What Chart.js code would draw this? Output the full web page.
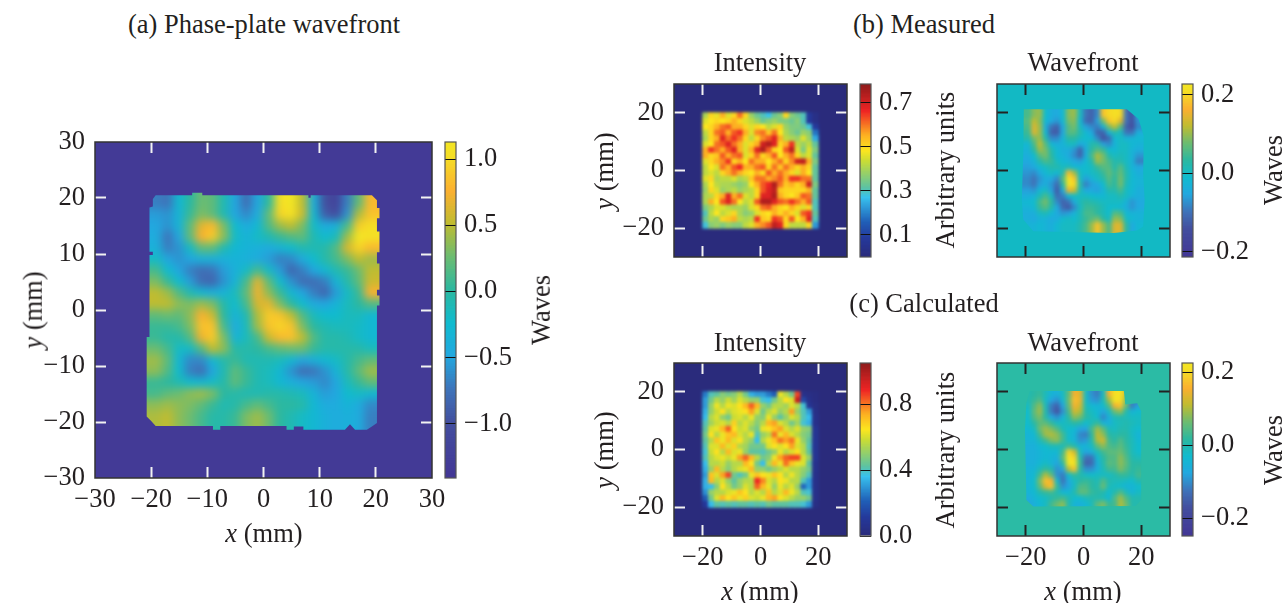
<!DOCTYPE html>
<html><head><meta charset="utf-8">
<style>
html,body{margin:0;padding:0;background:#fff;width:1286px;height:603px;overflow:hidden}
canvas{position:absolute;display:block}
.t{position:absolute;font:26.5px "Liberation Serif",serif;color:#231f20;white-space:nowrap;transform:translate(-50%,-50%);line-height:1}
.r{transform:translate(-50%,-50%) rotate(-90deg)}
</style>
<script src="https://cdn.jsdelivr.net/npm/chart.js@4"></script>
</head><body>
<script>
// ---- tick values
const mainTicks=[-30,-20,-10,0,10,20,30];
const mainInnerTicks=[-20,-10,0,10,20];
const smallTicks=[-20,0,20];
const cbMainTicks=[1,0.5,0,-0.5,-1];
const cbIntBTicks=[0.7,0.5,0.3,0.1];
const cbWaveBTicks=[0.2,0,-0.2];
const cbIntCTicks=[0.8,0.4,0];
const cbWaveCTicks=[0.2,0,-0.2];
// ---- colour scale limits
const mainRange=[-1.41,1.13], intBRange=[0,0.786], waveBRange=[-0.213,0.228], intCRange=[0,1.05], waveCRange=[-0.249,0.225];
// ---- (a) phase plate, waves, rows y=19..-19, columns x=-19..19 (2 mm cells)
const phaseRows=[
[-.7,-.75,-.3,0,.25,.2,-.1,-.5,-.8,-.5,0,1,1.13,.5,-.4,-1,-1.2,-.7,.2,.8],
[-.55,-.6,-.35,.05,.3,.2,-.1,-.5,-.65,-.45,.2,.95,1.05,.55,-.3,-.9,-1.05,-.6,.45,.85],
[-.5,-.6,-.35,.2,.65,.8,.3,-.25,-.45,-.3,.15,.4,.5,.3,-.2,-.45,-.4,.1,.9,1],
[-.45,-.75,-.5,.2,.75,.9,.35,-.2,-.35,-.2,-.1,.05,.15,.2,-.1,-.25,-.15,.4,1.13,1.05],
[-.4,-.7,-.6,-.2,.2,.2,-.1,-.3,-.35,-.4,-.45,-.35,-.25,-.1,-.1,-.05,.15,.6,.95,.8],
[-.2,-.5,-.6,-.5,-.4,-.4,-.4,-.35,-.4,-.45,-.55,-.7,-.65,-.45,-.25,-.05,.1,.3,.5,.4],
[.1,-.25,-.5,-.7,-.8,-.75,-.55,-.4,-.2,.1,-.2,-.55,-.85,-.7,-.5,-.3,-.1,.05,.25,.5],
[.3,.05,-.25,-.55,-.8,-.85,-.6,-.35,.1,.65,.2,-.25,-.6,-.8,-.8,-.7,-.35,-.05,.2,.55],
[.5,.4,.15,-.1,-.3,-.4,-.35,-.15,.2,.7,.35,.05,-.3,-.5,-.7,-.85,-.55,-.2,.05,.75],
[.5,.5,.35,.3,.4,.3,-.05,-.25,.1,.6,.65,.3,0,-.25,-.45,-.5,-.35,-.15,0,.15],
[.2,.25,.2,.35,.75,.55,0,-.35,-.1,.45,.9,.85,.5,.15,-.15,-.25,-.25,-.15,-.15,-.3],
[.05,.05,.1,.3,.85,.85,.1,-.45,-.15,.4,.85,.95,.85,.3,0,-.1,-.15,-.15,-.2,-.3],
[.05,-.05,-.05,.15,.7,.9,.3,-.35,-.15,.1,.55,.8,.85,.5,.15,-.05,-.05,-.1,-.2,-.3],
[.25,.1,-.2,-.2,.15,.5,.35,-.05,-.05,0,.1,.2,.25,.25,.05,-.05,-.05,-.05,-.05,-.15],
[.4,.2,-.3,-.65,-.65,-.3,-.05,.05,-.1,-.1,-.1,-.15,-.3,-.5,-.4,-.3,-.2,-.05,.1,.2],
[.35,.15,-.25,-.7,-.8,-.5,-.1,.2,.05,-.1,-.15,-.3,-.6,-.8,-.75,-.6,-.35,-.05,.2,.4],
[.05,0,-.1,-.25,-.3,-.2,-.05,.2,.05,-.1,-.15,-.3,-.4,-.5,-.55,-.65,-.5,-.15,.05,.2],
[.1,.2,.25,.35,.4,.3,0,-.05,-.1,-.1,-.05,-.05,-.1,-.15,-.35,-.55,-.5,-.25,-.2,-.3],
[.35,.4,.35,.3,.2,.05,-.1,-.05,.1,.2,.1,0,0,-.05,-.3,-.45,-.45,-.35,-.45,-.65],
[.45,.5,.35,.25,.1,-.05,-.05,.05,.3,.4,.25,0,-.1,-.2,-.3,-.4,-.45,-.4,-.45,-.7]];
// ---- (b) measured intensity
const measuredIntensity=[
[.4,.5,.46,.55,.45,.5,.6,.5,.38,.33,.3,.27,.33,.36,.5,.36,.33,.3,.08,.03],
[.45,.48,.5,.48,.5,.55,.5,.45,.42,.38,.33,.36,.38,.35,.35,.33,.36,.3,.08,.03],
[.48,.5,.55,.6,.62,.55,.55,.5,.45,.5,.48,.42,.45,.5,.38,.35,.35,.33,.28,.08],
[.42,.5,.6,.62,.55,.62,.65,.55,.45,.58,.6,.52,.6,.48,.4,.36,.33,.38,.36,.18],
[.4,.5,.55,.68,.6,.65,.6,.5,.42,.5,.58,.62,.68,.55,.42,.4,.38,.45,.38,.24],
[.45,.48,.6,.62,.68,.6,.55,.45,.5,.55,.7,.74,.68,.5,.55,.65,.42,.38,.42,.32],
[.55,.65,.6,.55,.62,.68,.55,.45,.55,.68,.74,.62,.5,.48,.62,.72,.45,.35,.45,.35],
[.55,.5,.52,.62,.55,.6,.62,.45,.5,.6,.5,.55,.62,.48,.55,.6,.5,.42,.45,.32],
[.45,.5,.55,.58,.65,.5,.55,.48,.6,.55,.55,.48,.55,.6,.5,.58,.7,.72,.55,.35],
[.42,.48,.45,.6,.55,.62,.66,.55,.55,.6,.62,.5,.6,.52,.6,.55,.5,.55,.5,.32],
[.42,.45,.42,.5,.55,.6,.55,.5,.48,.55,.5,.62,.55,.6,.55,.5,.45,.55,.48,.32],
[.45,.5,.4,.42,.42,.45,.4,.42,.52,.6,.6,.55,.58,.62,.55,.65,.65,.6,.6,.32],
[.4,.48,.42,.4,.4,.38,.36,.38,.48,.55,.62,.66,.74,.6,.52,.55,.5,.55,.7,.35],
[.38,.5,.45,.38,.4,.42,.38,.4,.42,.5,.62,.68,.72,.52,.5,.5,.5,.5,.55,.32],
[.4,.42,.5,.55,.68,.55,.6,.45,.42,.5,.68,.68,.74,.55,.5,.48,.52,.62,.6,.32],
[.4,.55,.48,.62,.68,.6,.48,.42,.45,.62,.74,.74,.68,.62,.6,.65,.6,.55,.62,.3],
[.35,.4,.45,.45,.42,.4,.4,.38,.45,.5,.6,.62,.55,.5,.48,.55,.5,.45,.5,.3],
[.3,.42,.48,.42,.45,.5,.4,.36,.38,.45,.5,.48,.55,.5,.55,.5,.45,.62,.65,.32],
[.33,.4,.38,.5,.52,.55,.42,.4,.42,.65,.52,.5,.65,.62,.5,.62,.48,.55,.68,.3],
[.28,.36,.38,.35,.38,.36,.36,.42,.45,.55,.58,.62,.72,.68,.5,.42,.42,.42,.5,.22]];
// ---- (b) measured wavefront
const measuredWave=[
[.05,.09,.1,-.01,-.04,-.05,-.02,.09,.1,0,-.1,-.12,-.08,.18,.2,.21,.2,-.1,-.14,-.06],
[.06,.12,.09,-.02,-.05,-.07,-.02,.08,.09,-.02,-.11,-.12,-.06,.08,.18,.2,.14,-.1,-.14,-.07],
[.05,.14,.1,-.04,-.1,-.12,-.05,.06,.08,0,-.06,-.08,-.09,-.03,.08,.12,.06,-.12,-.15,-.08],
[.04,.14,.1,-.02,-.12,-.13,-.05,.06,.06,.02,-.02,-.05,-.12,-.12,-.03,.02,0,-.1,-.1,-.04],
[.02,.08,.1,.02,-.08,-.08,-.03,.03,.03,0,-.01,-.02,-.08,-.14,-.11,-.02,0,-.03,-.03,-.02],
[-.02,.05,.12,.06,-.02,-.04,-.03,0,0,-.05,-.03,.02,.02,-.06,-.08,-.03,0,0,-.02,-.03],
[-.03,.03,.1,.08,.02,-.02,-.04,-.04,-.07,-.12,-.04,.03,.06,.04,-.01,-.02,0,0,-.03,-.04],
[-.04,-.01,.06,.08,.03,-.02,-.03,-.05,-.08,-.12,-.04,.05,.11,.08,.02,0,.01,0,-.03,-.07],
[-.05,-.03,.02,.05,.04,0,-.02,-.03,-.05,-.06,-.02,.02,.1,.08,.05,.02,.02,0,-.03,-.09],
[-.06,-.05,-.02,0,.02,.02,0,.01,-.02,-.02,-.01,0,.04,.06,.06,.02,.06,.01,-.03,-.05],
[-.07,-.08,-.05,-.02,0,-.02,.02,.17,.1,0,-.02,0,.01,.04,.07,.04,.07,.02,-.02,-.04],
[-.08,-.1,-.07,-.04,-.05,-.08,.06,.22,.18,0,-.06,-.03,0,.02,.06,.03,.08,.02,-.02,-.03],
[-.08,-.1,-.06,-.04,-.07,-.11,.03,.22,.2,.02,-.09,-.06,-.05,-.01,.05,.03,.08,.01,-.02,-.03],
[-.06,-.07,-.02,0,-.06,-.13,-.04,.15,.13,.01,-.05,-.05,-.06,-.03,.02,.02,.05,0,-.02,-.04],
[-.04,-.03,.01,.05,0,-.11,-.09,-.02,0,0,0,-.01,-.02,-.02,0,0,.02,0,-.03,-.04],
[-.02,-.01,.05,.08,.03,-.08,-.12,-.1,-.04,.01,.03,.02,.01,0,0,0,0,-.03,-.07,-.05],
[-.03,-.02,.04,.06,.02,-.05,-.11,-.13,-.08,0,.04,.04,.03,.01,-.01,-.01,-.02,-.04,-.07,-.05],
[-.04,-.04,0,.01,-.02,-.05,-.07,-.06,-.03,.01,.05,.05,.03,.01,-.01,.06,.05,-.02,-.03,-.03],
[-.04,-.05,-.03,-.03,-.05,-.04,-.01,0,-.01,.01,.04,.06,.08,.03,0,.1,.09,0,-.02,-.03],
[-.03,-.03,-.02,-.03,-.04,-.02,0,0,0,.02,.05,.1,.18,.1,.05,.14,.14,.03,-.05,-.02]];
// ---- (c) calculated intensity
const calculatedIntensity=[
[.25,.4,.42,.48,.45,.48,.55,.45,.33,.3,.3,.25,.2,.62,.55,.45,.85,.05,.03,.02],
[.3,.45,.55,.5,.58,.52,.6,.55,.5,.5,.38,.35,.45,.55,.65,.6,.95,.15,.05,.02],
[.3,.5,.62,.55,.62,.6,.65,.72,.82,.72,.5,.45,.55,.55,.52,.6,.55,.38,.08,.03],
[.33,.5,.58,.65,.55,.6,.62,.65,.75,.6,.45,.55,.6,.5,.55,.75,.5,.4,.3,.04],
[.35,.55,.6,.5,.45,.58,.6,.55,.62,.5,.48,.62,.5,.42,.5,.6,.55,.4,.35,.05],
[.4,.52,.58,.6,.55,.68,.55,.6,.55,.48,.55,.72,.75,.6,.55,.45,.52,.38,.33,.05],
[.42,.6,.62,.72,.82,.65,.58,.6,.5,.45,.62,.65,.7,.75,.6,.55,.6,.5,.48,.08],
[.45,.65,.55,.62,.7,.72,.6,.55,.62,.4,.5,.55,.8,.62,.72,.6,.55,.48,.45,.08],
[.42,.55,.7,.62,.72,.6,.65,.55,.5,.35,.55,.62,.7,.8,.75,.8,.62,.5,.42,.08],
[.4,.6,.6,.72,.6,.68,.55,.52,.45,.45,.45,.6,.65,.6,.65,.75,.6,.55,.4,.08],
[.38,.58,.65,.55,.72,.6,.62,.5,.42,.42,.4,.45,.5,.62,.55,.6,.65,.55,.42,.08],
[.4,.55,.6,.62,.58,.62,.75,.82,.72,.55,.45,.48,.62,.75,.82,.85,.85,.6,.5,.08],
[.35,.55,.55,.58,.5,.55,.55,.72,.65,.45,.35,.55,.72,.62,.8,.7,.62,.6,.42,.06],
[.33,.5,.72,.55,.48,.55,.6,.62,.72,.5,.5,.45,.5,.55,.6,.55,.55,.5,.45,.06],
[.3,.7,.6,.75,.85,.45,.4,.45,.62,.7,.65,.62,.7,.65,.55,.62,.55,.48,.4,.05],
[.33,.72,.55,.6,.5,.42,.5,.55,.55,.88,.78,.6,.55,.65,.62,.55,.55,.4,.3,.05],
[.33,.35,.48,.65,.55,.45,.5,.6,.55,.82,.72,.62,.5,.62,.55,.6,.5,.22,.3,.05],
[.28,.5,.55,.55,.6,.62,.7,.65,.55,.6,.55,.7,.55,.6,.72,.62,.55,.4,.38,.05],
[.2,.45,.6,.72,.65,.7,.62,.68,.6,.58,.62,.72,.75,.65,.6,.55,.5,.5,.45,.05],
[.1,.35,.42,.4,.42,.4,.42,.42,.4,.42,.4,.45,.42,.42,.42,.4,.4,.38,.3,.03]];
// ---- (c) calculated wavefront
const calculatedWave=[
[0,.01,.02,-.01,-.05,-.06,-.02,.05,.15,.13,-.02,-.1,-.12,-.02,.15,.21,.21,.12,0,0],
[0,.02,.04,-.02,-.08,-.1,-.04,.06,.17,.14,-.02,-.09,-.1,-.01,.09,.22,.2,.08,-.1,-.14],
[-.02,.04,.08,-.01,-.12,-.15,-.08,.05,.15,.12,-.01,-.04,-.05,-.03,.04,.15,.17,.05,-.12,-.08],
[-.03,.05,.09,0,-.12,-.17,-.1,.03,.12,.1,0,-.02,-.04,-.08,-.02,.06,.08,0,-.05,-.03],
[-.03,.04,.07,.01,-.07,-.1,-.05,.01,.08,.06,.01,-.01,-.03,-.11,-.06,-.01,0,-.01,-.02,-.02],
[-.03,.01,.05,.05,.02,-.02,-.02,-.01,.01,0,-.03,-.01,.02,-.05,-.06,-.02,-.01,0,-.01,-.02],
[-.04,-.02,.06,.09,.07,.04,-.01,-.03,-.04,-.08,-.08,.03,.09,.05,-.01,-.02,0,0,-.02,-.03],
[-.05,-.04,.03,.09,.1,.08,.03,-.03,-.05,-.11,-.12,.01,.11,.08,.01,0,.01,.01,-.02,-.05],
[-.05,-.05,-.01,.03,.07,.08,.03,-.03,-.05,-.1,-.09,0,.1,.12,.03,.01,.04,.01,-.01,-.04],
[-.06,-.06,-.04,-.03,-.01,-.01,-.01,.03,0,-.05,-.05,-.02,.05,.08,.04,.03,.05,.02,-.01,-.03],
[-.06,-.06,-.05,-.04,-.04,-.04,.03,.19,.12,-.02,-.08,-.06,-.01,.03,.05,.05,.06,.03,-.01,-.03],
[-.06,-.06,-.05,-.04,-.05,-.06,.05,.22,.19,0,-.13,-.13,-.04,.01,.04,.04,.08,.04,0,-.01],
[-.06,-.06,-.04,-.02,-.05,-.08,.01,.22,.22,.02,-.15,-.14,-.06,0,.05,.04,.08,.05,.01,.01],
[-.05,-.05,-.01,.02,0,-.1,-.08,.1,.17,.01,-.1,-.1,-.06,-.01,.03,.03,.07,.04,.01,.02],
[-.05,-.04,.03,.1,.05,-.1,-.12,-.03,.02,0,-.02,-.03,-.02,-.02,-.02,0,.02,.02,0,.03],
[-.05,-.03,.07,.17,.15,-.03,-.13,-.07,-.02,.01,.02,.01,-.01,.04,0,-.01,-.01,-.02,-.03,0],
[-.05,-.03,.05,.13,.17,.02,-.1,-.08,-.02,.04,.04,.01,0,.06,-.01,-.02,-.03,-.05,-.05,-.03],
[-.05,-.04,0,.02,.03,0,-.04,-.04,0,.05,.05,.02,.01,0,-.03,0,.04,-.01,-.05,-.02],
[-.07,-.05,-.03,-.02,0,.02,.03,0,-.03,-.03,-.01,0,0,-.01,-.04,.04,.09,.04,0,0],
[-.08,-.06,-.04,-.02,.03,.06,.08,0,-.05,-.06,-.04,-.01,.05,.07,.02,.03,.1,.06,0,0]];
// ---- aperture outlines (mm)
const phaseEdgeX=[-19.2,-12.7,-12.7,-10.9,-10.9,8,8,8.4,8.4,19.3,20.2,20.2,20.65,20.65,20.2,20.2,20.65,20.65,20.2,20.2,20.65,20.65,20.2,20.2,20.65,20.65,20.2,20.2,19.3,18.4,16.3,15.4,14.5,7.1,7.1,5.4,5.4,4.1,4.1,-7.7,-7.7,-9,-9,-19.2,-20,-20.8,-20.8,-20.3,-20.3,-19.7,-19.7,-20.3,-20.3,-19.7,-19.7];
const phaseEdgeY=[20.5,20.5,20.95,20.95,20.5,20.5,20.05,20.05,20.5,20.5,19.6,18.2,18.2,16.4,16.4,14,14,10.3,10.3,8.3,8.3,3.6,3.6,2.6,2.6,0.8,0.8,-20.2,-20.8,-21.4,-21.4,-20.4,-21.4,-21.4,-20.8,-20.8,-21.4,-21.4,-20.7,-20.7,-21.4,-21.4,-20.7,-20.7,-19.8,-19,-4.8,-4.8,9.8,9.8,10.4,10.4,18.3,18.5,19.8];
const waveBEdgeX=[-20.7,15,19.1,20.9,20.7,21.2,20.7,18.6,10.5,-17.4,-20.9,-21.4,-20.9];
const waveBEdgeY=[21.2,21.2,17.9,11.9,-0.9,-10.2,-19.4,-20.8,-21.7,-21.1,-17,-10.2,4.9];
const waveCEdgeX=[-18.6,14,14.5,18.6,20,20,18,-17.4,-19.8,-20.3,-19.8];
const waveCEdgeY=[20.3,20.3,15.6,16,13.3,-17.5,-19.6,-19.8,-17.5,6.9,16.2];
// ---- colour maps: [position, colour]
const parulaPos=[0,.16,.255,.36,.455,.555,.655,.753,.85,.95,1];
const parulaCol=['#433796','#434f9f','#3f72b8','#22a8e0','#10bbcf','#2cb8a0','#6dbc70','#c0bc30','#fbb030','#f5de25','#f3e624'];
const jetPos=[0,.1,.2,.34,.4,.55,.61,.7,.84,1];
const jetCol=['#2a2b7c','#25389a','#2060b8','#38c2ee','#5fc3a0','#c9dc36','#fce61f','#fdb022','#ee2424','#8a1b1b'];

function hex(c){return [1,3,5].map(i=>parseInt(c.substr(i,2),16));}
function cmap(pos,col,t){
  t=Math.max(0,Math.min(1,t));
  let i=0; while(i<pos.length-2&&t>pos[i+1])i++;
  const f=(t-pos[i])/(pos[i+1]-pos[i]),a=hex(col[i]),b=hex(col[i+1]);
  return 'rgb('+a.map((v,k)=>Math.round(v+(b[k]-v)*f)).join(',')+')';
}
function fmt(d){return v=>{const s=Math.abs(v).toFixed(d);return (v<-1e-9?'\u2212':'')+s;};}
const TF='"Liberation Serif",serif', TC='#231f20';
const tickFont={family:TF,size:26.5};

function place(l,t,w,h){
  const c=document.createElement('canvas');c.width=w;c.height=h;
  c.style.left=l+'px';c.style.top=t+'px';c.style.width=w+'px';c.style.height=h+'px';
  document.body.appendChild(c);return c;
}
function label(txt,x,y,rot){
  const d=document.createElement('div');d.className='t'+(rot?' r':'');d.innerHTML=txt;
  d.style.left=x+'px';d.style.top=y+'px';document.body.appendChild(d);
}

function heatPanel(p){
  const M={l:90,t:16,r:20,b:50};
  const cv=place(p.box[0]-M.l,p.box[1]-M.t,p.box[2]+M.l+M.r,p.box[3]+M.t+M.b);
  const pts=[],cols=[],pad=p.pad;
  const clamp=i=>Math.max(0,Math.min(19,i));
  for(let j=-pad;j<20+pad;j++)for(let i=-pad;i<20+pad;i++){
    const v=p.rows[clamp(j)][clamp(i)];
    pts.push({x:-19+2*i,y:19-2*j});
    cols.push(cmap(p.pos,p.col,(v-p.range[0])/(p.range[1]-p.range[0])));
  }
  const axis=(pos,ax,ticks,show,size)=>({
    type:'linear',axis:ax,position:pos,min:-30,max:30,
    afterBuildTicks:s=>{s.ticks=ticks.map(v=>({value:v}));},
    afterFit:s=>{if(ax==='x')s.height=size;else s.width=size;s.paddingLeft=s.paddingRight=s.paddingTop=s.paddingBottom=0;},
    grid:{drawOnChartArea:false,drawTicks:true,tickLength:-11,tickColor:c=>Math.abs(c.tick.value)>=30?'rgba(0,0,0,0)':p.tick,tickWidth:2,z:1},
    border:{display:false},
    ticks:{display:show,autoSkip:false,maxRotation:0,minRotation:0,font:tickFont,color:TC,padding:ax==='x'?(11+6):(11+10),callback:fmt(0)}
  });
  const plugin={id:'heat',
    beforeDatasetsDraw(c){const a=c.chartArea;c.ctx.save();c.ctx.fillStyle=p.bg;c.ctx.fillRect(a.left,a.top,a.width,a.height);c.ctx.restore();},
    afterDatasetsDraw(c){
      const a=c.chartArea,ctx=c.ctx,sx=c.scales.x,sy=c.scales.y;
      const off=document.createElement('canvas');off.width=a.width;off.height=a.height;
      off.getContext('2d').drawImage(c.canvas,a.left,a.top,a.width,a.height,0,0,a.width,a.height);
      ctx.save();
      ctx.fillStyle=p.bg;ctx.fillRect(a.left,a.top,a.width,a.height);
      ctx.beginPath();
      if(p.edgeX){
        p.edgeX.forEach((x,i)=>{const X=sx.getPixelForValue(x),Y=sy.getPixelForValue(p.edgeY[i]);i?ctx.lineTo(X,Y):ctx.moveTo(X,Y);});
        ctx.closePath();
      }else ctx.rect(a.left,a.top,a.width,a.height);
      ctx.clip();
      ctx.filter='blur('+p.blur+'px)';
      ctx.drawImage(off,a.left,a.top);
      ctx.restore();
    },
    afterDraw(c){const a=c.chartArea,ctx=c.ctx;ctx.save();ctx.strokeStyle='#333';ctx.lineWidth=1.5;ctx.strokeRect(a.left,a.top,a.width,a.height);ctx.restore();}
  };
  new Chart(cv,{type:'scatter',
    data:{datasets:[{data:pts,pointStyle:'rect',pointBackgroundColor:cols,pointBorderWidth:0,
      pointRadius:c=>{const s=c.chart.scales.x;return (Math.abs(s.getPixelForValue(2)-s.getPixelForValue(0))+1)/Math.SQRT2;}}]},
    plugins:[plugin],
    options:{responsive:false,animation:false,devicePixelRatio:1,events:[],layout:{padding:0},
      plugins:{legend:{display:false},tooltip:{enabled:false},title:{display:false}},
      scales:{
        x:axis('bottom','x',p.xTicks,p.showX,M.b),
        x2:axis('top','x',p.xInner,false,M.t),
        y:axis('left','y',p.yTicks,p.showY,M.l),
        y2:axis('right','y',p.yInner,false,M.r)
      }}});
}

function colorBar(b){
  const M={t:16,b:16,l:2,r:80};
  const cv=place(b.box[0]-M.l,b.box[1]-M.t,b.box[2]+M.l+M.r,b.box[3]+M.t+M.b);
  const n=128,ds=[],span=b.range[1]-b.range[0];
  for(let i=0;i<n;i++){
    const lo=b.range[0]+span*i/n,hi=b.range[0]+span*Math.min(1,(i+1.6)/n);
    ds.push({data:[[lo,hi]],backgroundColor:cmap(b.pos,b.col,(i+.5)/n),borderWidth:0,grouped:false,barPercentage:1,categoryPercentage:1,inflateAmount:0});
  }
  new Chart(cv,{type:'bar',
    data:{labels:['scale'],datasets:ds},
    plugins:[{id:'frame',afterDraw(c){const a=c.chartArea,ctx=c.ctx;ctx.save();ctx.strokeStyle='#555';ctx.lineWidth=1.2;ctx.strokeRect(a.left,a.top,a.width,a.height);ctx.restore();}}],
    options:{responsive:false,animation:false,devicePixelRatio:1,events:[],
      layout:{padding:{top:M.t,bottom:M.b,left:M.l,right:0}},
      plugins:{legend:{display:false},tooltip:{enabled:false}},
      scales:{
        x:{display:false,offset:true},
        y:{type:'linear',position:'right',min:b.range[0],max:b.range[1],
          afterBuildTicks:s=>{s.ticks=b.ticks.map(v=>({value:v}));},
          afterFit:s=>{s.width=M.r;s.paddingLeft=s.paddingRight=s.paddingTop=s.paddingBottom=0;},
          grid:{drawOnChartArea:true,drawTicks:false,color:'#111',lineWidth:1,z:1},
          border:{display:false},
          ticks:{autoSkip:false,font:tickFont,color:TC,padding:8,callback:fmt(1)}}
      }}});
}

const WHITE='#f2f2f2',DARK='#222';
heatPanel({box:[95,142,337,336],rows:phaseRows,range:mainRange,pos:parulaPos,col:parulaCol,bg:'#433a96',tick:WHITE,blur:4,pad:2,edgeX:phaseEdgeX,edgeY:phaseEdgeY,xTicks:mainTicks,yTicks:mainTicks,xInner:mainInnerTicks,yInner:mainInnerTicks,showX:true,showY:true});
heatPanel({box:[674,84,173,173],rows:measuredIntensity,range:intBRange,pos:jetPos,col:jetCol,bg:'#2a2b7c',tick:WHITE,blur:1.8,pad:0,xTicks:smallTicks,yTicks:smallTicks,xInner:smallTicks,yInner:smallTicks,showX:false,showY:true});
heatPanel({box:[997,84,173,173],rows:measuredWave,range:waveBRange,pos:parulaPos,col:parulaCol,bg:'#12b9c4',tick:DARK,blur:2,pad:2,edgeX:waveBEdgeX,edgeY:waveBEdgeY,xTicks:smallTicks,yTicks:smallTicks,xInner:smallTicks,yInner:smallTicks,showX:false,showY:false});
heatPanel({box:[674,363,173,173],rows:calculatedIntensity,range:intCRange,pos:jetPos,col:jetCol,bg:'#2a2b7c',tick:WHITE,blur:1.8,pad:0,xTicks:smallTicks,yTicks:smallTicks,xInner:smallTicks,yInner:smallTicks,showX:true,showY:true});
heatPanel({box:[997,363,173,173],rows:calculatedWave,range:waveCRange,pos:parulaPos,col:parulaCol,bg:'#2bbba5',tick:DARK,blur:2,pad:2,edgeX:waveCEdgeX,edgeY:waveCEdgeY,xTicks:smallTicks,yTicks:smallTicks,xInner:smallTicks,yInner:smallTicks,showX:true,showY:false});

colorBar({box:[445,142,11,336],range:mainRange,ticks:cbMainTicks,pos:parulaPos,col:parulaCol});
colorBar({box:[860,84,11,173],range:intBRange,ticks:cbIntBTicks,pos:jetPos,col:jetCol});
colorBar({box:[1182,84,11,173],range:waveBRange,ticks:cbWaveBTicks,pos:parulaPos,col:parulaCol});
colorBar({box:[860,363,11,173],range:intCRange,ticks:cbIntCTicks,pos:jetPos,col:jetCol});
colorBar({box:[1182,363,11,173],range:waveCRange,ticks:cbWaveCTicks,pos:parulaPos,col:parulaCol});

label('(a) Phase-plate wavefront',264,24);
label('(b) Measured',924,24);
label('(c) Calculated',924,303);
label('Intensity',760,62);label('Wavefront',1083,62);
label('Intensity',760,342);label('Wavefront',1083,342);
const ymm='<i>y</i> (mm)',xmm='<i>x</i> (mm)';
label(ymm,33,310,true);label(ymm,604,171,true);label(ymm,604,450,true);
label(xmm,264,533);label(xmm,760,591);label(xmm,1083,591);
label('Waves',541,310,true);label('Waves',1273,170,true);label('Waves',1273,450,true);
label('Arbitrary units',945,170,true);label('Arbitrary units',945,450,true);
</script>
</body></html>
